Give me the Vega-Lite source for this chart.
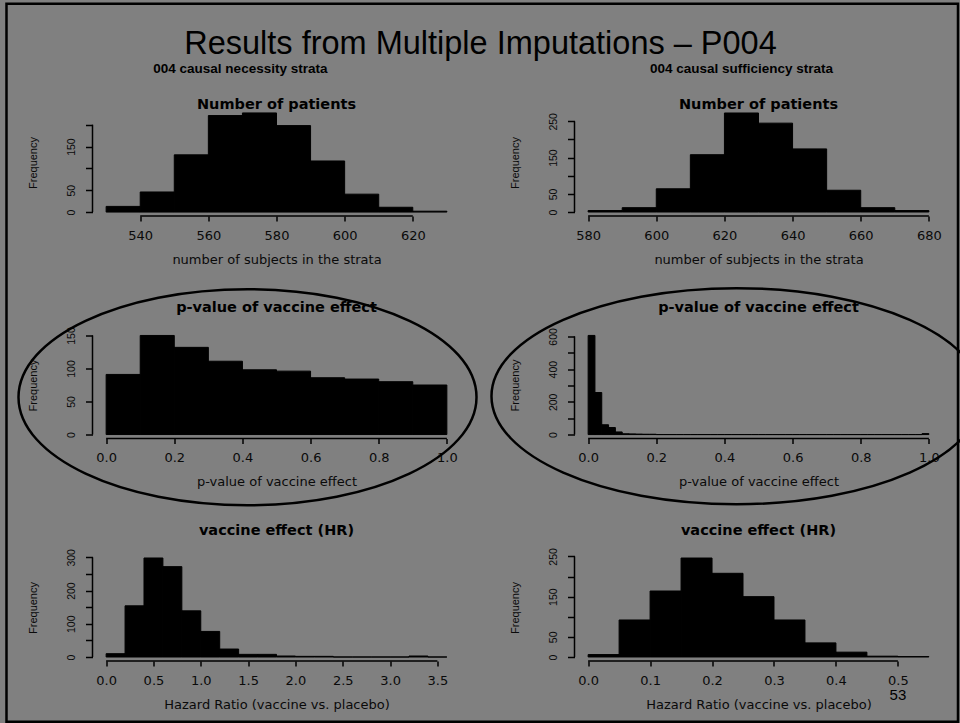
{
  "$schema": "https://vega.github.io/schema/vega-lite/v6.json",
  "background": "#808080",
  "padding": {"left": 0.5, "top": -2, "right": 0, "bottom": 0},
  "columns": 2,
  "spacing": {"row": 115.5, "column": 114},
  "bounds": "flush",
  "config": {
    "view": {"stroke": null},
    "font": "DejaVu Sans",
    "axis": {"grid": false, "domain": false, "tickColor": "#000000", "tickWidth": 1.5, "labelColor": "#0a0a0a", "titleColor": "#0a0a0a", "titleFontWeight": "normal", "labelOverlap": false},
    "axisX": {"tickSize": 5, "labelPadding": 8, "labelFont": "DejaVu Sans", "labelFontSize": 13, "titleFont": "DejaVu Sans", "titleFontSize": 13, "titlePadding": 11, "labelFlush": false},
    "axisY": {"tickSize": 7, "labelPadding": 9, "labelAngle": 270, "labelAlign": "center", "labelBaseline": "bottom", "labelFont": "Liberation Sans", "labelFontSize": 10.5, "titleFont": "Liberation Sans", "titleFontSize": 11, "titlePadding": 28, "labelOverlap": false}
  },
  "datasets": {
    "p1": [
      {"bin_start": 530, "bin_end": 540, "count": 13},
      {"bin_start": 540, "bin_end": 550, "count": 46},
      {"bin_start": 550, "bin_end": 560, "count": 131},
      {"bin_start": 560, "bin_end": 570, "count": 221},
      {"bin_start": 570, "bin_end": 580, "count": 227},
      {"bin_start": 580, "bin_end": 590, "count": 198},
      {"bin_start": 590, "bin_end": 600, "count": 117},
      {"bin_start": 600, "bin_end": 610, "count": 41},
      {"bin_start": 610, "bin_end": 620, "count": 11},
      {"bin_start": 620, "bin_end": 630, "count": 2}
    ],
    "p2": [
      {"bin_start": 580, "bin_end": 590, "count": 4},
      {"bin_start": 590, "bin_end": 600, "count": 12},
      {"bin_start": 600, "bin_end": 610, "count": 64},
      {"bin_start": 610, "bin_end": 620, "count": 158},
      {"bin_start": 620, "bin_end": 630, "count": 273},
      {"bin_start": 630, "bin_end": 640, "count": 245},
      {"bin_start": 640, "bin_end": 650, "count": 174},
      {"bin_start": 650, "bin_end": 660, "count": 60},
      {"bin_start": 660, "bin_end": 670, "count": 12},
      {"bin_start": 670, "bin_end": 680, "count": 4}
    ],
    "p3": [
      {"bin_start": 0.0, "bin_end": 0.1, "count": 91},
      {"bin_start": 0.1, "bin_end": 0.2, "count": 150},
      {"bin_start": 0.2, "bin_end": 0.3, "count": 132},
      {"bin_start": 0.3, "bin_end": 0.4, "count": 111},
      {"bin_start": 0.4, "bin_end": 0.5, "count": 98},
      {"bin_start": 0.5, "bin_end": 0.6, "count": 96},
      {"bin_start": 0.6, "bin_end": 0.7, "count": 86},
      {"bin_start": 0.7, "bin_end": 0.8, "count": 84},
      {"bin_start": 0.8, "bin_end": 0.9, "count": 80},
      {"bin_start": 0.9, "bin_end": 1.0, "count": 75}
    ],
    "p4": [
      {"bin_start": 0.00, "bin_end": 0.02, "count": 606},
      {"bin_start": 0.02, "bin_end": 0.04, "count": 257},
      {"bin_start": 0.04, "bin_end": 0.06, "count": 60},
      {"bin_start": 0.06, "bin_end": 0.08, "count": 43},
      {"bin_start": 0.08, "bin_end": 0.10, "count": 16},
      {"bin_start": 0.10, "bin_end": 0.12, "count": 5},
      {"bin_start": 0.12, "bin_end": 0.14, "count": 4},
      {"bin_start": 0.14, "bin_end": 0.16, "count": 3},
      {"bin_start": 0.16, "bin_end": 0.18, "count": 2},
      {"bin_start": 0.18, "bin_end": 0.20, "count": 2},
      {"bin_start": 0.20, "bin_end": 0.22, "count": 0},
      {"bin_start": 0.22, "bin_end": 0.24, "count": 0},
      {"bin_start": 0.24, "bin_end": 0.26, "count": 0},
      {"bin_start": 0.26, "bin_end": 0.28, "count": 0},
      {"bin_start": 0.28, "bin_end": 0.30, "count": 0},
      {"bin_start": 0.30, "bin_end": 0.32, "count": 0},
      {"bin_start": 0.32, "bin_end": 0.34, "count": 0},
      {"bin_start": 0.34, "bin_end": 0.36, "count": 0},
      {"bin_start": 0.36, "bin_end": 0.38, "count": 0},
      {"bin_start": 0.38, "bin_end": 0.40, "count": 0},
      {"bin_start": 0.40, "bin_end": 0.42, "count": 0},
      {"bin_start": 0.42, "bin_end": 0.44, "count": 0},
      {"bin_start": 0.44, "bin_end": 0.46, "count": 0},
      {"bin_start": 0.46, "bin_end": 0.48, "count": 0},
      {"bin_start": 0.48, "bin_end": 0.50, "count": 0},
      {"bin_start": 0.50, "bin_end": 0.52, "count": 0},
      {"bin_start": 0.52, "bin_end": 0.54, "count": 0},
      {"bin_start": 0.54, "bin_end": 0.56, "count": 0},
      {"bin_start": 0.56, "bin_end": 0.58, "count": 0},
      {"bin_start": 0.58, "bin_end": 0.60, "count": 0},
      {"bin_start": 0.60, "bin_end": 0.62, "count": 0},
      {"bin_start": 0.62, "bin_end": 0.64, "count": 0},
      {"bin_start": 0.64, "bin_end": 0.66, "count": 0},
      {"bin_start": 0.66, "bin_end": 0.68, "count": 0},
      {"bin_start": 0.68, "bin_end": 0.70, "count": 0},
      {"bin_start": 0.70, "bin_end": 0.72, "count": 0},
      {"bin_start": 0.72, "bin_end": 0.74, "count": 0},
      {"bin_start": 0.74, "bin_end": 0.76, "count": 0},
      {"bin_start": 0.76, "bin_end": 0.78, "count": 0},
      {"bin_start": 0.78, "bin_end": 0.80, "count": 0},
      {"bin_start": 0.80, "bin_end": 0.82, "count": 0},
      {"bin_start": 0.82, "bin_end": 0.84, "count": 0},
      {"bin_start": 0.84, "bin_end": 0.86, "count": 0},
      {"bin_start": 0.86, "bin_end": 0.88, "count": 0},
      {"bin_start": 0.88, "bin_end": 0.90, "count": 0},
      {"bin_start": 0.90, "bin_end": 0.92, "count": 0},
      {"bin_start": 0.92, "bin_end": 0.94, "count": 0},
      {"bin_start": 0.94, "bin_end": 0.96, "count": 0},
      {"bin_start": 0.96, "bin_end": 0.98, "count": 0},
      {"bin_start": 0.98, "bin_end": 1.00, "count": 6}
    ],
    "p5": [
      {"bin_start": 0.0, "bin_end": 0.2, "count": 10},
      {"bin_start": 0.2, "bin_end": 0.4, "count": 154},
      {"bin_start": 0.4, "bin_end": 0.6, "count": 298},
      {"bin_start": 0.6, "bin_end": 0.8, "count": 272},
      {"bin_start": 0.8, "bin_end": 1.0, "count": 139},
      {"bin_start": 1.0, "bin_end": 1.2, "count": 77},
      {"bin_start": 1.2, "bin_end": 1.4, "count": 24},
      {"bin_start": 1.4, "bin_end": 1.6, "count": 8},
      {"bin_start": 1.6, "bin_end": 1.8, "count": 8},
      {"bin_start": 1.8, "bin_end": 2.0, "count": 3},
      {"bin_start": 2.0, "bin_end": 2.2, "count": 2},
      {"bin_start": 2.2, "bin_end": 2.4, "count": 2},
      {"bin_start": 2.4, "bin_end": 2.6, "count": 0},
      {"bin_start": 2.6, "bin_end": 2.8, "count": 0},
      {"bin_start": 2.8, "bin_end": 3.0, "count": 0},
      {"bin_start": 3.0, "bin_end": 3.2, "count": 0},
      {"bin_start": 3.2, "bin_end": 3.4, "count": 3},
      {"bin_start": 3.4, "bin_end": 3.6, "count": 0}
    ],
    "p6": [
      {"bin_start": 0.00, "bin_end": 0.05, "count": 6},
      {"bin_start": 0.05, "bin_end": 0.10, "count": 92},
      {"bin_start": 0.10, "bin_end": 0.15, "count": 164},
      {"bin_start": 0.15, "bin_end": 0.20, "count": 246},
      {"bin_start": 0.20, "bin_end": 0.25, "count": 208},
      {"bin_start": 0.25, "bin_end": 0.30, "count": 150},
      {"bin_start": 0.30, "bin_end": 0.35, "count": 92},
      {"bin_start": 0.35, "bin_end": 0.40, "count": 35},
      {"bin_start": 0.40, "bin_end": 0.45, "count": 12},
      {"bin_start": 0.45, "bin_end": 0.50, "count": 2},
      {"bin_start": 0.50, "bin_end": 0.55, "count": 1}
    ]
  },
  "concat": [
    {
      "width": 368, "height": 107,
      "layer": [
        {
          "data": {"name": "p1"},
          "mark": {"type": "rect", "fill": "#000000", "stroke": "#000000", "strokeWidth": 1},
          "encoding": {
            "x": {"field": "bin_start", "type": "quantitative", "scale": {"domain": [526, 634], "nice": false, "zero": false}, "axis": {"title": "number of subjects in the strata", "values": [540, 560, 580, 600, 620], "labelOverlap": false}},
            "x2": {"field": "bin_end"},
            "y": {"field": "count", "type": "quantitative", "scale": {"domain": [-9, 236], "nice": false, "zero": false}, "axis": {"title": "Frequency", "values": [0, 50, 100, 150, 200], "labelOverlap": false, "labelExpr": "datum.value == 100 || datum.value == 200 ? '' : datum.label"}},
            "y2": {"datum": 0}
          }
        },
        {"data": {"values": [{}]}, "mark": {"type": "rule", "color": "#000000", "strokeWidth": 1.5}, "encoding": {"x": {"datum": 540, "axis": {"title": "number of subjects in the strata", "values": [540, 560, 580, 600, 620], "labelOverlap": false}}, "x2": {"datum": 620}, "y": {"datum": -9, "axis": {"title": "Frequency", "values": [0, 50, 100, 150, 200], "labelOverlap": false, "labelExpr": "datum.value == 100 || datum.value == 200 ? '' : datum.label"}}}},
        {"data": {"values": [{}]}, "mark": {"type": "rule", "color": "#000000", "strokeWidth": 1.5}, "encoding": {"x": {"datum": 526, "axis": {"title": "number of subjects in the strata", "values": [540, 560, 580, 600, 620], "labelOverlap": false}}, "y": {"datum": 0, "axis": {"title": "Frequency", "values": [0, 50, 100, 150, 200], "labelOverlap": false, "labelExpr": "datum.value == 100 || datum.value == 200 ? '' : datum.label"}}, "y2": {"datum": 200}}},
        {"data": {"values": [{}]}, "mark": {"type": "text", "font": "DejaVu Sans", "fontWeight": "bold", "fontSize": 14.5, "align": "center", "baseline": "alphabetic", "color": "#000000"}, "encoding": {"x": {"datum": 580, "axis": {"title": "number of subjects in the strata", "values": [540, 560, 580, 600, 620], "labelOverlap": false}}, "y": {"datum": 237, "axis": {"title": "Frequency", "values": [0, 50, 100, 150, 200], "labelOverlap": false, "labelExpr": "datum.value == 100 || datum.value == 200 ? '' : datum.label"}}, "text": {"value": "Number of patients"}}},
        {"data": {"values": [{}]}, "mark": {"type": "text", "font": "Liberation Sans", "fontWeight": "bold", "fontSize": 13.5, "align": "center", "baseline": "alphabetic", "color": "#000000"}, "encoding": {"x": {"datum": 569.4, "axis": {"title": "number of subjects in the strata", "values": [540, 560, 580, 600, 620], "labelOverlap": false}}, "y": {"datum": 318, "axis": {"title": "Frequency", "values": [0, 50, 100, 150, 200], "labelOverlap": false, "labelExpr": "datum.value == 100 || datum.value == 200 ? '' : datum.label"}}, "text": {"value": "004 causal necessity strata"}}},
        {"data": {"values": [{}]}, "mark": {"type": "text", "font": "Liberation Sans", "fontSize": 32.5, "align": "center", "baseline": "alphabetic", "color": "#000000"}, "encoding": {"x": {"datum": 639.87, "axis": {"title": "number of subjects in the strata", "values": [540, 560, 580, 600, 620], "labelOverlap": false}}, "y": {"datum": 362.6, "axis": {"title": "Frequency", "values": [0, 50, 100, 150, 200], "labelOverlap": false, "labelExpr": "datum.value == 100 || datum.value == 200 ? '' : datum.label"}}, "text": {"value": "Results from Multiple Imputations – P004"}}},
        {"data": {"values": [{}]}, "mark": {"type": "point", "shape": "M-1,-0.7546L1,-0.7546L1,0.7546L-1,0.7546Z", "size": 905352, "filled": false, "stroke": "#000000", "strokeWidth": 2.5, "opacity": 1}, "encoding": {"x": {"datum": 640.38, "axis": {"title": "number of subjects in the strata", "values": [540, 560, 580, 600, 620], "labelOverlap": false}}, "y": {"datum": -344.9, "axis": {"title": "Frequency", "values": [0, 50, 100, 150, 200], "labelOverlap": false, "labelExpr": "datum.value == 100 || datum.value == 200 ? '' : datum.label"}}}}
      ]
    },
    {
      "width": 368, "height": 107,
      "layer": [
        {
          "data": {"name": "p2"},
          "mark": {"type": "rect", "fill": "#000000", "stroke": "#000000", "strokeWidth": 1},
          "encoding": {
            "x": {"field": "bin_start", "type": "quantitative", "scale": {"domain": [576, 684], "nice": false, "zero": false}, "axis": {"title": "number of subjects in the strata", "values": [580, 600, 620, 640, 660, 680], "labelOverlap": false}},
            "x2": {"field": "bin_end"},
            "y": {"field": "count", "type": "quantitative", "scale": {"domain": [-11, 284], "nice": false, "zero": false}, "axis": {"title": "Frequency", "values": [0, 50, 100, 150, 200, 250], "labelOverlap": false, "labelExpr": "datum.value == 100 || datum.value == 200 ? '' : datum.label"}},
            "y2": {"datum": 0}
          }
        },
        {"data": {"values": [{}]}, "mark": {"type": "rule", "color": "#000000", "strokeWidth": 1.5}, "encoding": {"x": {"datum": 580, "axis": {"title": "number of subjects in the strata", "values": [580, 600, 620, 640, 660, 680], "labelOverlap": false}}, "x2": {"datum": 680}, "y": {"datum": -11, "axis": {"title": "Frequency", "values": [0, 50, 100, 150, 200, 250], "labelOverlap": false, "labelExpr": "datum.value == 100 || datum.value == 200 ? '' : datum.label"}}}},
        {"data": {"values": [{}]}, "mark": {"type": "rule", "color": "#000000", "strokeWidth": 1.5}, "encoding": {"x": {"datum": 576, "axis": {"title": "number of subjects in the strata", "values": [580, 600, 620, 640, 660, 680], "labelOverlap": false}}, "y": {"datum": 0, "axis": {"title": "Frequency", "values": [0, 50, 100, 150, 200, 250], "labelOverlap": false, "labelExpr": "datum.value == 100 || datum.value == 200 ? '' : datum.label"}}, "y2": {"datum": 250}}},
        {"data": {"values": [{}]}, "mark": {"type": "text", "font": "DejaVu Sans", "fontWeight": "bold", "fontSize": 14.5, "align": "center", "baseline": "alphabetic", "color": "#000000"}, "encoding": {"x": {"datum": 630, "axis": {"title": "number of subjects in the strata", "values": [580, 600, 620, 640, 660, 680], "labelOverlap": false}}, "y": {"datum": 285, "axis": {"title": "Frequency", "values": [0, 50, 100, 150, 200, 250], "labelOverlap": false, "labelExpr": "datum.value == 100 || datum.value == 200 ? '' : datum.label"}}, "text": {"value": "Number of patients"}}},
        {"data": {"values": [{}]}, "mark": {"type": "text", "font": "Liberation Sans", "fontWeight": "bold", "fontSize": 13.5, "align": "center", "baseline": "alphabetic", "color": "#000000"}, "encoding": {"x": {"datum": 625, "axis": {"title": "number of subjects in the strata", "values": [580, 600, 620, 640, 660, 680], "labelOverlap": false}}, "y": {"datum": 382.5, "axis": {"title": "Frequency", "values": [0, 50, 100, 150, 200, 250], "labelOverlap": false, "labelExpr": "datum.value == 100 || datum.value == 200 ? '' : datum.label"}}, "text": {"value": "004 causal sufficiency strata"}}}
      ]
    },
    {
      "width": 368, "height": 107,
      "layer": [
        {
          "data": {"name": "p3"},
          "mark": {"type": "rect", "fill": "#000000", "stroke": "#000000", "strokeWidth": 1},
          "encoding": {
            "x": {"field": "bin_start", "type": "quantitative", "scale": {"domain": [-0.04, 1.04], "nice": false, "zero": false}, "axis": {"title": "p-value of vaccine effect", "values": [0, 0.2, 0.4, 0.6, 0.8, 1.0], "format": ".1f", "labelOverlap": false}},
            "x2": {"field": "bin_end"},
            "y": {"field": "count", "type": "quantitative", "scale": {"domain": [-6, 156], "nice": false, "zero": false}, "axis": {"title": "Frequency", "values": [0, 50, 100, 150], "labelOverlap": false}},
            "y2": {"datum": 0}
          }
        },
        {"data": {"values": [{}]}, "mark": {"type": "rule", "color": "#000000", "strokeWidth": 1.5}, "encoding": {"x": {"datum": 0, "axis": {"title": "p-value of vaccine effect", "values": [0, 0.2, 0.4, 0.6, 0.8, 1.0], "format": ".1f", "labelOverlap": false}}, "x2": {"datum": 1}, "y": {"datum": -6, "axis": {"title": "Frequency", "values": [0, 50, 100, 150], "labelOverlap": false}}}},
        {"data": {"values": [{}]}, "mark": {"type": "rule", "color": "#000000", "strokeWidth": 1.5}, "encoding": {"x": {"datum": -0.04, "axis": {"title": "p-value of vaccine effect", "values": [0, 0.2, 0.4, 0.6, 0.8, 1.0], "format": ".1f", "labelOverlap": false}}, "y": {"datum": 0, "axis": {"title": "Frequency", "values": [0, 50, 100, 150], "labelOverlap": false}}, "y2": {"datum": 150}}},
        {"data": {"values": [{}]}, "mark": {"type": "text", "font": "DejaVu Sans", "fontWeight": "bold", "fontSize": 14.5, "align": "center", "baseline": "alphabetic", "color": "#000000"}, "encoding": {"x": {"datum": 0.5, "axis": {"title": "p-value of vaccine effect", "values": [0, 0.2, 0.4, 0.6, 0.8, 1.0], "format": ".1f", "labelOverlap": false}}, "y": {"datum": 185.7, "axis": {"title": "Frequency", "values": [0, 50, 100, 150], "labelOverlap": false}}, "text": {"value": "p-value of vaccine effect"}}},
        {"data": {"values": [{}]}, "mark": {"type": "point", "shape": "M1,0C1,0.2605,0.5523,0.4716,0,0.4716C-0.5523,0.4716,-1,0.2605,-1,0C-1,-0.2605,-0.5523,-0.4716,0,-0.4716C0.5523,-0.4716,1,-0.2605,1,0Z", "size": 209764, "filled": false, "stroke": "#000000", "strokeWidth": 2.5, "opacity": 1}, "encoding": {"x": {"datum": 0.4149, "axis": {"title": "p-value of vaccine effect", "values": [0, 0.2, 0.4, 0.6, 0.8, 1.0], "format": ".1f", "labelOverlap": false}}, "y": {"datum": 56.5, "axis": {"title": "Frequency", "values": [0, 50, 100, 150], "labelOverlap": false}}}}
      ]
    },
    {
      "width": 368, "height": 107,
      "layer": [
        {
          "data": {"name": "p4"},
          "mark": {"type": "rect", "fill": "#000000", "stroke": "#000000", "strokeWidth": 1},
          "encoding": {
            "x": {"field": "bin_start", "type": "quantitative", "scale": {"domain": [-0.04, 1.04], "nice": false, "zero": false}, "axis": {"title": "p-value of vaccine effect", "values": [0, 0.2, 0.4, 0.6, 0.8, 1.0], "format": ".1f", "labelOverlap": false}},
            "x2": {"field": "bin_end"},
            "y": {"field": "count", "type": "quantitative", "scale": {"domain": [-24, 630], "nice": false, "zero": false}, "axis": {"title": "Frequency", "values": [0, 100, 200, 300, 400, 500, 600], "labelOverlap": false, "labelExpr": "datum.value % 200 == 0 ? datum.label : ''"}},
            "y2": {"datum": 0}
          }
        },
        {"data": {"values": [{}]}, "mark": {"type": "rule", "color": "#000000", "strokeWidth": 1.5}, "encoding": {"x": {"datum": 0, "axis": {"title": "p-value of vaccine effect", "values": [0, 0.2, 0.4, 0.6, 0.8, 1.0], "format": ".1f", "labelOverlap": false}}, "x2": {"datum": 1}, "y": {"datum": -24, "axis": {"title": "Frequency", "values": [0, 100, 200, 300, 400, 500, 600], "labelOverlap": false, "labelExpr": "datum.value % 200 == 0 ? datum.label : ''"}}}},
        {"data": {"values": [{}]}, "mark": {"type": "rule", "color": "#000000", "strokeWidth": 1.5}, "encoding": {"x": {"datum": -0.04, "axis": {"title": "p-value of vaccine effect", "values": [0, 0.2, 0.4, 0.6, 0.8, 1.0], "format": ".1f", "labelOverlap": false}}, "y": {"datum": 0, "axis": {"title": "Frequency", "values": [0, 100, 200, 300, 400, 500, 600], "labelOverlap": false, "labelExpr": "datum.value % 200 == 0 ? datum.label : ''"}}, "y2": {"datum": 600}}},
        {"data": {"values": [{}]}, "mark": {"type": "text", "font": "DejaVu Sans", "fontWeight": "bold", "fontSize": 14.5, "align": "center", "baseline": "alphabetic", "color": "#000000"}, "encoding": {"x": {"datum": 0.5, "axis": {"title": "p-value of vaccine effect", "values": [0, 0.2, 0.4, 0.6, 0.8, 1.0], "format": ".1f", "labelOverlap": false}}, "y": {"datum": 749.8, "axis": {"title": "Frequency", "values": [0, 100, 200, 300, 400, 500, 600], "labelOverlap": false, "labelExpr": "datum.value % 200 == 0 ? datum.label : ''"}}, "text": {"value": "p-value of vaccine effect"}}},
        {"data": {"values": [{}]}, "mark": {"type": "point", "shape": "M1,0C1,0.2435,0.5523,0.4408,0,0.4408C-0.5523,0.4408,-1,0.2435,-1,0C-1,-0.2435,-0.5523,-0.4408,0,-0.4408C0.5523,-0.4408,1,-0.2435,1,0Z", "size": 240100, "filled": false, "stroke": "#000000", "strokeWidth": 2.5, "opacity": 1}, "encoding": {"x": {"datum": 0.4354, "axis": {"title": "p-value of vaccine effect", "values": [0, 0.2, 0.4, 0.6, 0.8, 1.0], "format": ".1f", "labelOverlap": false}}, "y": {"datum": 234.5, "axis": {"title": "Frequency", "values": [0, 100, 200, 300, 400, 500, 600], "labelOverlap": false, "labelExpr": "datum.value % 200 == 0 ? datum.label : ''"}}}}
      ]
    },
    {
      "width": 368, "height": 107,
      "layer": [
        {
          "data": {"name": "p5"},
          "mark": {"type": "rect", "fill": "#000000", "stroke": "#000000", "strokeWidth": 1},
          "encoding": {
            "x": {"field": "bin_start", "type": "quantitative", "scale": {"domain": [-0.144, 3.744], "nice": false, "zero": false}, "axis": {"title": "Hazard Ratio (vaccine vs. placebo)", "values": [0, 0.5, 1.0, 1.5, 2.0, 2.5, 3.0, 3.5], "format": ".1f", "labelOverlap": false}},
            "x2": {"field": "bin_end"},
            "y": {"field": "count", "type": "quantitative", "scale": {"domain": [-12, 310], "nice": false, "zero": false}, "axis": {"title": "Frequency", "values": [0, 50, 100, 150, 200, 250, 300], "labelOverlap": false, "labelExpr": "datum.value % 100 == 0 ? datum.label : ''"}},
            "y2": {"datum": 0}
          }
        },
        {"data": {"values": [{}]}, "mark": {"type": "rule", "color": "#000000", "strokeWidth": 1.5}, "encoding": {"x": {"datum": 0, "axis": {"title": "Hazard Ratio (vaccine vs. placebo)", "values": [0, 0.5, 1.0, 1.5, 2.0, 2.5, 3.0, 3.5], "format": ".1f", "labelOverlap": false}}, "x2": {"datum": 3.5}, "y": {"datum": -12, "axis": {"title": "Frequency", "values": [0, 50, 100, 150, 200, 250, 300], "labelOverlap": false, "labelExpr": "datum.value % 100 == 0 ? datum.label : ''"}}}},
        {"data": {"values": [{}]}, "mark": {"type": "rule", "color": "#000000", "strokeWidth": 1.5}, "encoding": {"x": {"datum": -0.144, "axis": {"title": "Hazard Ratio (vaccine vs. placebo)", "values": [0, 0.5, 1.0, 1.5, 2.0, 2.5, 3.0, 3.5], "format": ".1f", "labelOverlap": false}}, "y": {"datum": 0, "axis": {"title": "Frequency", "values": [0, 50, 100, 150, 200, 250, 300], "labelOverlap": false, "labelExpr": "datum.value % 100 == 0 ? datum.label : ''"}}, "y2": {"datum": 300}}},
        {"data": {"values": [{}]}, "mark": {"type": "text", "font": "DejaVu Sans", "fontWeight": "bold", "fontSize": 14.5, "align": "center", "baseline": "alphabetic", "color": "#000000"}, "encoding": {"x": {"datum": 1.8, "axis": {"title": "Hazard Ratio (vaccine vs. placebo)", "values": [0, 0.5, 1.0, 1.5, 2.0, 2.5, 3.0, 3.5], "format": ".1f", "labelOverlap": false}}, "y": {"datum": 366.6, "axis": {"title": "Frequency", "values": [0, 50, 100, 150, 200, 250, 300], "labelOverlap": false, "labelExpr": "datum.value % 100 == 0 ? datum.label : ''"}}, "text": {"value": "vaccine effect (HR)"}}}
      ]
    },
    {
      "width": 368, "height": 107,
      "layer": [
        {
          "data": {"name": "p6"},
          "mark": {"type": "rect", "fill": "#000000", "stroke": "#000000", "strokeWidth": 1},
          "encoding": {
            "x": {"field": "bin_start", "type": "quantitative", "scale": {"domain": [-0.022, 0.572], "nice": false, "zero": false}, "axis": {"title": "Hazard Ratio (vaccine vs. placebo)", "values": [0, 0.1, 0.2, 0.3, 0.4, 0.5], "format": ".1f", "labelOverlap": false}},
            "x2": {"field": "bin_end"},
            "y": {"field": "count", "type": "quantitative", "scale": {"domain": [-10, 256], "nice": false, "zero": false}, "axis": {"title": "Frequency", "values": [0, 50, 100, 150, 200, 250], "labelOverlap": false, "labelExpr": "datum.value == 100 || datum.value == 200 ? '' : datum.label"}},
            "y2": {"datum": 0}
          }
        },
        {"data": {"values": [{}]}, "mark": {"type": "rule", "color": "#000000", "strokeWidth": 1.5}, "encoding": {"x": {"datum": 0, "axis": {"title": "Hazard Ratio (vaccine vs. placebo)", "values": [0, 0.1, 0.2, 0.3, 0.4, 0.5], "format": ".1f", "labelOverlap": false}}, "x2": {"datum": 0.5}, "y": {"datum": -10, "axis": {"title": "Frequency", "values": [0, 50, 100, 150, 200, 250], "labelOverlap": false, "labelExpr": "datum.value == 100 || datum.value == 200 ? '' : datum.label"}}}},
        {"data": {"values": [{}]}, "mark": {"type": "rule", "color": "#000000", "strokeWidth": 1.5}, "encoding": {"x": {"datum": -0.022, "axis": {"title": "Hazard Ratio (vaccine vs. placebo)", "values": [0, 0.1, 0.2, 0.3, 0.4, 0.5], "format": ".1f", "labelOverlap": false}}, "y": {"datum": 0, "axis": {"title": "Frequency", "values": [0, 50, 100, 150, 200, 250], "labelOverlap": false, "labelExpr": "datum.value == 100 || datum.value == 200 ? '' : datum.label"}}, "y2": {"datum": 250}}},
        {"data": {"values": [{}]}, "mark": {"type": "text", "font": "DejaVu Sans", "fontWeight": "bold", "fontSize": 14.5, "align": "center", "baseline": "alphabetic", "color": "#000000"}, "encoding": {"x": {"datum": 0.275, "axis": {"title": "Hazard Ratio (vaccine vs. placebo)", "values": [0, 0.1, 0.2, 0.3, 0.4, 0.5], "format": ".1f", "labelOverlap": false}}, "y": {"datum": 302.7, "axis": {"title": "Frequency", "values": [0, 50, 100, 150, 200, 250], "labelOverlap": false, "labelExpr": "datum.value == 100 || datum.value == 200 ? '' : datum.label"}}, "text": {"value": "vaccine effect (HR)"}}},
        {"data": {"values": [{}]}, "mark": {"type": "text", "font": "Liberation Sans", "fontSize": 15, "align": "center", "baseline": "alphabetic", "color": "#000000"}, "encoding": {"x": {"datum": 0.5, "axis": {"title": "Hazard Ratio (vaccine vs. placebo)", "values": [0, 0.1, 0.2, 0.3, 0.4, 0.5], "format": ".1f", "labelOverlap": false}}, "y": {"datum": -106, "axis": {"title": "Frequency", "values": [0, 50, 100, 150, 200, 250], "labelOverlap": false, "labelExpr": "datum.value == 100 || datum.value == 200 ? '' : datum.label"}}, "text": {"value": "53"}}}
      ]
    }
  ]
}
